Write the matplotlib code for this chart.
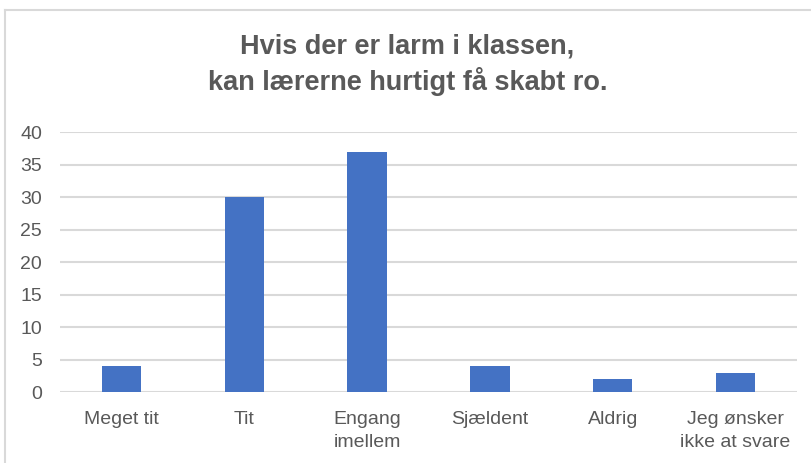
import matplotlib
matplotlib.use("Agg")
import matplotlib.pyplot as plt
from matplotlib.lines import Line2D

# data
categories = ["Meget tit", "Tit", "Engang\nimellem", "Sjældent", "Aldrig", "Jeg ønsker\nikke at svare"]
values = [4, 30, 37, 4, 2, 3]
yticks = [0, 5, 10, 15, 20, 25, 30, 35, 40]

title = "Hvis der er larm i klassen,\nkan lærerne hurtigt få skabt ro."

bar_color = "#4472C4"
text_color = "#595959"
grid_color = "#D9D9D9"

fig = plt.figure(figsize=(8.12, 4.63), dpi=100)
ax = fig.add_axes([0.0739, 0.1533, 0.9076, 0.5616])

x = list(range(len(categories)))
ax.bar(x, values, width=0.32, color=bar_color, zorder=3)

ax.set_xlim(-0.5, len(categories) - 0.5)
ax.set_ylim(0, 40)
ax.set_yticks(yticks)
ax.set_xticks(x)
ax.set_xticklabels(categories, linespacing=1.4)
ax.tick_params(axis="both", length=0, labelsize=14, colors=text_color, labelfontfamily="Liberation Sans")
ax.tick_params(axis="x", pad=14)
ax.tick_params(axis="y", pad=13)
ax.grid(axis="y", color=grid_color, linewidth=1.5, zorder=0)
for s in ax.spines.values():
    s.set_visible(False)

fig.text(0.502, 0.86, title, ha="center", va="center", fontsize=19.5, fontweight="bold",
         color=text_color, family="Liberation Sans", linespacing=1.32)

# outer chart frame (cropped at right and bottom)
fig.add_artist(Line2D([0.0065, 0.0065], [0, 0.978], color=grid_color, lw=1.5, transform=fig.transFigure))
fig.add_artist(Line2D([0.0065, 1], [0.978, 0.978], color=grid_color, lw=1.5, transform=fig.transFigure))

fig.savefig("out.png", dpi=100)
